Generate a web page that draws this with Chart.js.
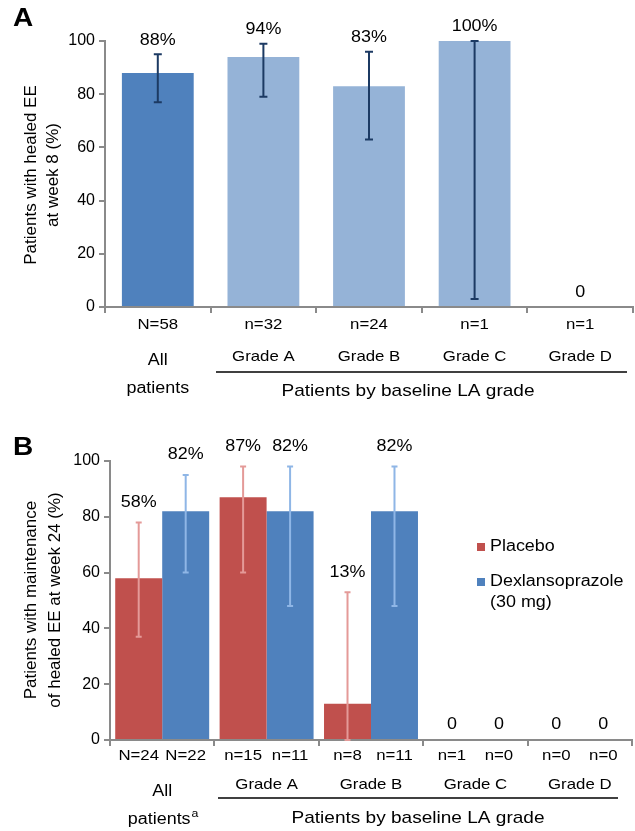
<!DOCTYPE html>
<html>
<head>
<meta charset="utf-8">
<script src="https://cdn.jsdelivr.net/npm/chart.js@4.4.1/dist/chart.umd.min.js"></script>
<style>
  body { margin: 0; background: #fff; }
  #wrapA { position: absolute; left: 0; top: 0; width: 635px; height: 415px; }
  #wrapB { position: absolute; left: 0; top: 415px; width: 635px; height: 416px; }
</style>
</head>
<body>
<div id="wrapA"><canvas id="chartA" width="635" height="415"></canvas></div>
<div id="wrapB"><canvas id="chartB" width="635" height="416"></canvas></div>
<script>
// ---- panel A: healing at week 8 ----
var groupsA = ["All patients", "Grade A", "Grade B", "Grade C", "Grade D"];
var nLabelsA = ["N=58", "n=32", "n=24", "n=1", "n=1"];
var healedA = [88, 94, 83, 100, 0];
var healedLowA = [77, 79, 63, 3, null];
var healedHighA = [95, 99, 96, 100, null];
var healedTextA = ["88%", "94%", "83%", "100%", "0"];

// ---- panel B: maintenance at week 24 ----
var groupsB = ["All patients", "Grade A", "Grade B", "Grade C", "Grade D"];
var placebo = [58, 87, 13, 0, 0];
var placeboLow = [37, 60, 0, null, null];
var placeboHigh = [78, 98, 53, null, null];
var placeboText = ["58%", "87%", "13%", "0", "0"];
var placeboN = ["N=24", "n=15", "n=8", "n=1", "n=0"];
var dexlan = [82, 82, 82, 0, 0];
var dexlanLow = [60, 48, 48, null, null];
var dexlanHigh = [95, 98, 98, null, null];
var dexlanText = ["82%", "82%", "82%", "0", "0"];
var dexlanN = ["N=22", "n=11", "n=11", "n=0", "n=0"];

var FONT = "'Liberation Sans', Arial, sans-serif";
var AXIS = '#8a8a8a';
var STRETCH = 1.12; // the original lettering is a bit wide

function font(size, bold) { return (bold ? 'bold ' : '') + size + 'px ' + FONT; }

function drawErr(ctx, x, y1, y2, color, cap) {
  ctx.save();
  ctx.strokeStyle = color;
  ctx.lineWidth = 2;
  ctx.beginPath();
  ctx.moveTo(x, y1); ctx.lineTo(x, y2);
  ctx.moveTo(x - cap, y1); ctx.lineTo(x + cap, y1);
  ctx.moveTo(x - cap, y2); ctx.lineTo(x + cap, y2);
  ctx.stroke();
  ctx.restore();
}

// draws text slightly widened, returns drawn width
function text(ctx, str, x, y, f, align) {
  ctx.save();
  ctx.font = f;
  ctx.fillStyle = '#000';
  ctx.textAlign = align || 'center';
  ctx.textBaseline = 'middle';
  ctx.translate(x, y);
  ctx.scale(STRETCH, 1);
  ctx.fillText(str, 0, 0);
  var w = ctx.measureText(str).width * STRETCH;
  ctx.restore();
  return w;
}

function yTitle(ctx, lines, xs, yc) {
  ctx.save();
  ctx.font = font(17);
  ctx.fillStyle = '#000';
  ctx.textAlign = 'center';
  ctx.textBaseline = 'middle';
  for (var i = 0; i < lines.length; i++) {
    ctx.save();
    ctx.translate(xs[i], yc);
    ctx.rotate(-Math.PI / 2);
    ctx.fillText(lines[i], 0, 0);
    ctx.restore();
  }
  ctx.restore();
}

function hline(ctx, x1, x2, y) {
  ctx.save();
  ctx.strokeStyle = '#000'; ctx.lineWidth = 1.5;
  ctx.beginPath(); ctx.moveTo(x1, y); ctx.lineTo(x2, y); ctx.stroke();
  ctx.restore();
}

function yAxis(width) {
  return {
    min: 0, max: 100,
    ticks: { stepSize: 20, color: '#000', font: { family: FONT, size: 16 }, padding: 4 },
    grid: { drawOnChartArea: false, color: AXIS, tickLength: 6, lineWidth: 2 },
    border: { color: AXIS, width: 2 },
    afterFit: function (s) { s.width = width; }
  };
}

function xAxis(height) {
  return {
    ticks: { display: false },
    grid: { drawOnChartArea: false, color: AXIS, tickLength: 6, lineWidth: 2, offset: true },
    border: { color: AXIS, width: 2 },
    afterFit: function (s) { s.height = height; }
  };
}

// ---------- chart A ----------
var extrasA = {
  id: 'extrasA',
  afterDatasetsDraw: function (chart) {
    var ctx = chart.ctx, y = chart.scales.y, meta = chart.getDatasetMeta(0);
    meta.data.forEach(function (bar, i) {
      var top = y.getPixelForValue(healedA[i]);
      if (healedLowA[i] != null) {
        drawErr(ctx, bar.x, y.getPixelForValue(healedHighA[i]), y.getPixelForValue(healedLowA[i]), '#1c3a63', 4);
        top = Math.min(top, y.getPixelForValue(healedHighA[i]));
      }
      text(ctx, healedTextA[i], bar.x, top - 14, font(16));
      text(ctx, nLabelsA[i], bar.x, 325, font(15));
    });
  },
  afterDraw: function (chart) {
    var ctx = chart.ctx, x = chart.scales.x;
    text(ctx, 'A', 23, 19, font(25, true));
    yTitle(ctx, ['Patients with healed EE', 'at week 8 (%)'], [31, 53], 175);
    text(ctx, 'All', x.getPixelForValue(0), 361, font(16));
    text(ctx, 'patients', x.getPixelForValue(0), 389, font(16));
    for (var i = 1; i < groupsA.length; i++) text(ctx, groupsA[i], x.getPixelForValue(i), 357, font(15));
    hline(ctx, 216, 627, 372);
    text(ctx, 'Patients by baseline LA grade', 408, 391, font(17));
  }
};

new Chart(document.getElementById('chartA'), {
  type: 'bar',
  data: {
    labels: groupsA,
    datasets: [{
      label: 'Healed EE at week 8',
      data: healedA,
      backgroundColor: healedA.map(function (v, i) { return i === 0 ? '#4f81bd' : '#95b3d7'; }),
      barPercentage: 0.68,
      categoryPercentage: 1
    }]
  },
  options: {
    responsive: false,
    animation: false,
    layout: { padding: { top: 41, right: 2, left: 0, bottom: 0 } },
    plugins: { legend: { display: false }, tooltip: { enabled: false } },
    scales: { x: xAxis(108), y: yAxis(105) }
  },
  plugins: [extrasA]
});

// ---------- chart B ----------
var extrasB = {
  id: 'extrasB',
  afterDatasetsDraw: function (chart) {
    var ctx = chart.ctx, y = chart.scales.y;
    var sets = [
      { low: placeboLow, high: placeboHigh, vals: placebo, txt: placeboText, n: placeboN, err: '#e49a98' },
      { low: dexlanLow, high: dexlanHigh, vals: dexlan, txt: dexlanText, n: dexlanN, err: '#8fb6e6' }
    ];
    sets.forEach(function (s, d) {
      chart.getDatasetMeta(d).data.forEach(function (bar, i) {
        var top = y.getPixelForValue(s.vals[i]), off = 15;
        if (s.low[i] != null) {
          drawErr(ctx, bar.x, y.getPixelForValue(s.high[i]), y.getPixelForValue(s.low[i]), s.err, 3);
          top = Math.min(top, y.getPixelForValue(s.high[i]));
          off = 20;
        }
        text(ctx, s.txt[i], bar.x, top - off, font(16));
        text(ctx, s.n[i], bar.x, 341, font(15));
      });
    });
  },
  afterDraw: function (chart) {
    var ctx = chart.ctx, x = chart.scales.x;
    text(ctx, 'B', 23, 33, font(25, true));
    yTitle(ctx, ['Patients with maintenance', 'of healed EE at week 24 (%)'], [31, 55], 185);
    var cx = x.getPixelForValue(0);
    text(ctx, 'All', cx, 377, font(16));
    var w = text(ctx, 'patients', cx - 3, 405, font(16));
    text(ctx, 'a', cx - 3 + w / 2 + 1, 399, font(11), 'left');
    for (var i = 1; i < groupsB.length; i++) text(ctx, groupsB[i], x.getPixelForValue(i), 370, font(15));
    hline(ctx, 218, 618, 383);
    text(ctx, 'Patients by baseline LA grade', 418, 403, font(17));
    // legend inside the plot, beside the empty grade C/D slots
    var rows = [[132], [167, 188]];
    var names = [['Placebo'], ['Dexlansoprazole', '(30 mg)']];
    chart.data.datasets.forEach(function (ds, k) {
      ctx.fillStyle = ds.backgroundColor;
      ctx.fillRect(477, rows[k][0] - 4, 8, 8);
      names[k].forEach(function (t, j) { text(ctx, t, 490, rows[k][j], font(16), 'left'); });
    });
  }
};

new Chart(document.getElementById('chartB'), {
  type: 'bar',
  data: {
    labels: groupsB,
    datasets: [
      { label: 'Placebo', data: placebo, backgroundColor: '#c0504d', barPercentage: 1, categoryPercentage: 0.9 },
      { label: 'Dexlansoprazole (30 mg)', data: dexlan, backgroundColor: '#4f81bd', barPercentage: 1, categoryPercentage: 0.9 }
    ]
  },
  options: {
    responsive: false,
    animation: false,
    layout: { padding: { top: 46, right: 3, left: 0, bottom: 0 } },
    plugins: { legend: { display: false }, tooltip: { enabled: false } },
    scales: { x: xAxis(91), y: yAxis(110) }
  },
  plugins: [extrasB]
});
</script>
</body>
</html>
